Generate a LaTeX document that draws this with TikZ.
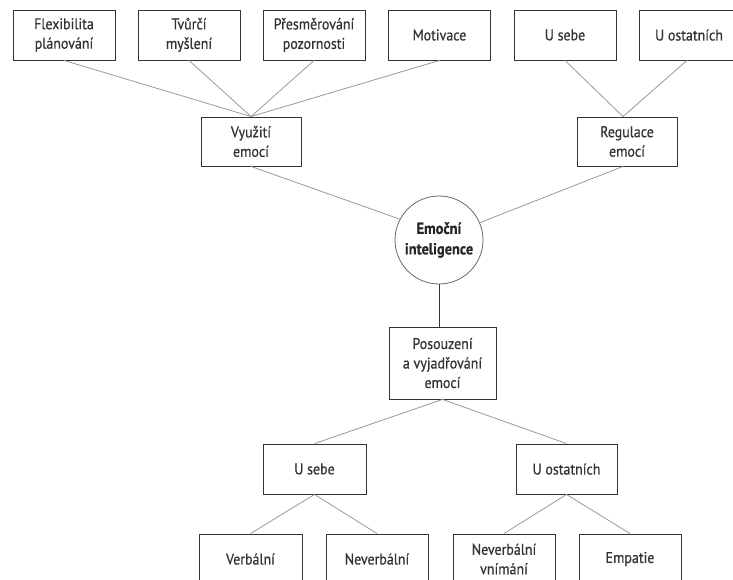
\documentclass[tikz,border=0pt]{standalone}
\usepackage{fontspec}
\setmainfont[FakeStretch=0.9,FakeBold=0.6]{PT Sans}
\begin{document}
\begin{tikzpicture}[x=1pt,y=-1pt,
  box/.style={draw=black!80, line width=0.9pt, minimum height=50pt, minimum width=102pt, inner sep=0pt, align=center, text=black!80, font=\fontsize{15.5}{19.5}\selectfont},
  link/.style={draw=black!40, line width=0.8pt},
  hub/.style={draw=black!60, line width=0.8pt, circle, minimum size=88pt, inner sep=0pt, align=center, text=black!85, font=\bfseries\fontsize{16}{20.5}\selectfont}]
\useasboundingbox (0,0) rectangle (733,580);
% top row
\node[box] (flex) at (64,35) {Flexibilita\\plánování};
\node[box] (tvur) at (189,35) {Tvůrčí\\myšlení};
\node[box] (pres) at (314,35) {Přesměrování\\pozornosti};
\node[box] (moti) at (439.5,35) {Motivace};
\node[box] (usebeT) at (565,35) {U sebe};
\node[box, minimum width=100pt] (uostT) at (689,35) {U ostatních};
% second row
\node[box, minimum width=100pt, minimum height=49pt] (vyuz) at (251,141.5) {Využití\\emocí};
\node[box, minimum width=100pt, minimum height=49pt] (regu) at (627,141.5) {Regulace\\emocí};
% hub
\node[hub] (ei) at (439,240) {Emoční\\inteligence};
% lower part
\node[box, minimum width=107pt, minimum height=72pt] (poso) at (442.5,363) {Posouzení\\a vyjadřování\\emocí};
\node[box, minimum width=103pt] (usebeB) at (314.5,469) {U sebe};
\node[box, minimum width=101pt] (uostB) at (566.5,469) {U ostatních};
\node[box, minimum width=103pt] (verb) at (250.5,559) {Verbální};
\node[box] (never) at (377,559) {Neverbální};
\node[box] (nvn) at (504,559) {Neverbální\\vnímání};
\node[box] (emp) at (630,559) {Empatie};
% connectors
\foreach \n in {flex,tvur,pres,moti} \draw[link] (\n.south) -- (vyuz.north);
\draw[link] (usebeT.south) -- ([xshift=-4pt]regu.north);
\draw[link] ([xshift=-2pt]uostT.south) -- ([xshift=-4pt]regu.north);
\draw[link] (vyuz.south) -- (ei.152);
\draw[link] ([xshift=-4pt]regu.south) -- (ei.23);
\draw[draw=black!80, line width=0.9pt] (ei.south) -- (ei.south |- poso.north);
\draw[link] (poso.south) -- (usebeB.north);
\draw[link] (poso.south) -- (uostB.north);
\draw[link] (usebeB.south) -- (verb.north);
\draw[link] (usebeB.south) -- (never.north);
\draw[link] (uostB.south) -- (nvn.north);
\draw[link] (uostB.south) -- (emp.north);
\end{tikzpicture}
\end{document}
